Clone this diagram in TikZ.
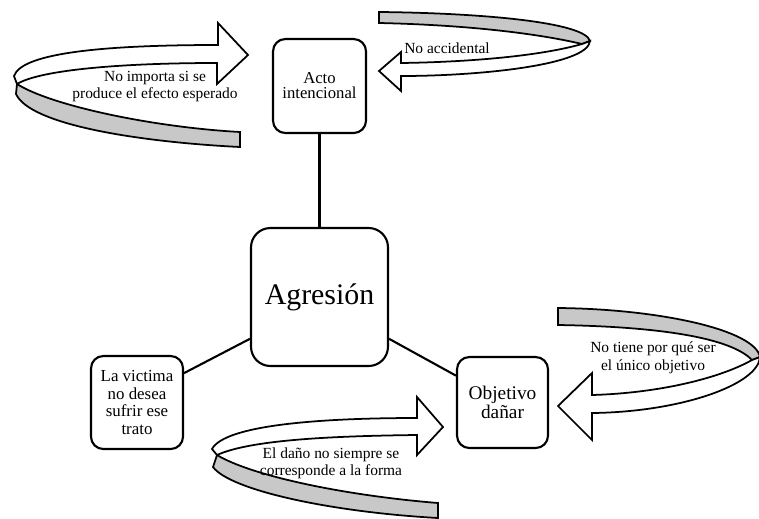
\documentclass[tikz,border=0pt]{standalone}
\usepackage{fontspec}
\setmainfont{Liberation Serif}
\usepackage{tikz}
\usetikzlibrary{positioning}
\definecolor{bandgray}{RGB}{200,200,200}
\tikzset{concept node/.style={draw,line width=1.2pt,rounded corners=7pt,align=center,inner sep=0pt,
            minimum width=1.84cm,minimum height=1.86cm},
         note node/.style={align=center,inner sep=0pt,font=\fontsize{8.8}{9.6}\selectfont},
         ribbon front/.style={draw,line width=1pt,fill=white,line join=miter},
         ribbon back/.style={draw,line width=1pt,fill=bandgray,line join=miter},
            }

\begin{document}
\begin{tikzpicture}[x=0.02cm,y=-0.02cm]
    \useasboundingbox (0,0) rectangle (759,518);

    \node[concept node,rounded corners=11pt,minimum width=2.74cm,minimum height=2.76cm,
          font=\fontsize{17}{20}\selectfont] (agresion) at (319.5,297) {Agresión};
    \node[concept node,minimum width=1.86cm,minimum height=1.88cm,
          font=\fontsize{9.5}{8.5}\selectfont] (acto) at (319.5,86) {Acto\\intencional};
    \node[concept node,font=\fontsize{9.6}{10}\selectfont] (victima) at (137,402.5) {La victima\\no desea\\sufrir ese\\trato};
    \node[concept node,minimum width=1.82cm,minimum height=1.82cm,
          font=\fontsize{11}{10.5}\selectfont] (objetivo) at (502.5,402.5) {Objetivo\\dañar};

    \path[draw,line width=1.2pt]
    (acto) edge (agresion)
    (agresion.211) edge (victima.32)
    (agresion.329) edge (objetivo.150);

    % twisted arrow, top left
    \path[ribbon back] (17,84) .. controls (50,105) and (150,127) .. (240,132) -- (240,147)
        .. controls (140,142) and (30,125) .. (16,94) -- cycle;
    \path[ribbon front] (14,76) .. controls (22,52) and (110,45) .. (218,45) -- (218,23) -- (248,55)
        -- (217,84) -- (217,63) .. controls (120,63) and (40,70) .. (17,84) -- cycle;
    \node[note node] (noimporta) at (155,86.5) {No importa si se\\produce el efecto esperado};

    % twisted arrow, top right
    \path[ribbon back] (379,12) .. controls (480,13) and (585,22) .. (590,41) -- (582,44)
        .. controls (540,34) and (470,25) .. (379,23) -- cycle;
    \path[ribbon front] (582,44) .. controls (540,56) and (470,62) .. (401,63) -- (401,52) -- (379,71)
        -- (401,91) -- (401,76) .. controls (480,76) and (588,65) .. (590,41) -- cycle;
    \node[note node] (noaccidental) at (447,48) {No accidental};

    % twisted arrow, right
    \path[ribbon back] (558,308) .. controls (660,309) and (755,330) .. (760,357) -- (752,360)
        .. controls (735,342) and (680,327) .. (558,325) -- cycle;
    \path[ribbon front] (752,360) .. controls (720,378) and (660,393) .. (592,395) -- (592,373) -- (558,406)
        -- (592,440) -- (592,413) .. controls (680,412) and (758,385) .. (760,357) -- cycle;
    \node[note node,font=\fontsize{8.8}{10.4}\selectfont] (notiene) at (653,358) {No tiene por qué ser\\el único objetivo};

    % twisted arrow, bottom
    \path[ribbon back] (217,455) .. controls (250,475) and (340,495) .. (438,503) -- (438,518)
        .. controls (330,512) and (230,490) .. (213,467) -- cycle;
    \path[ribbon front] (212,449) .. controls (225,425) and (320,418) .. (417,418) -- (417,397) -- (443,427)
        -- (417,455) -- (417,435) .. controls (330,436) and (250,440) .. (217,455) -- cycle;
    \node[note node] (danio) at (331,463.5) {El daño no siempre se\\corresponde a la forma};
\end{tikzpicture}
\end{document}
